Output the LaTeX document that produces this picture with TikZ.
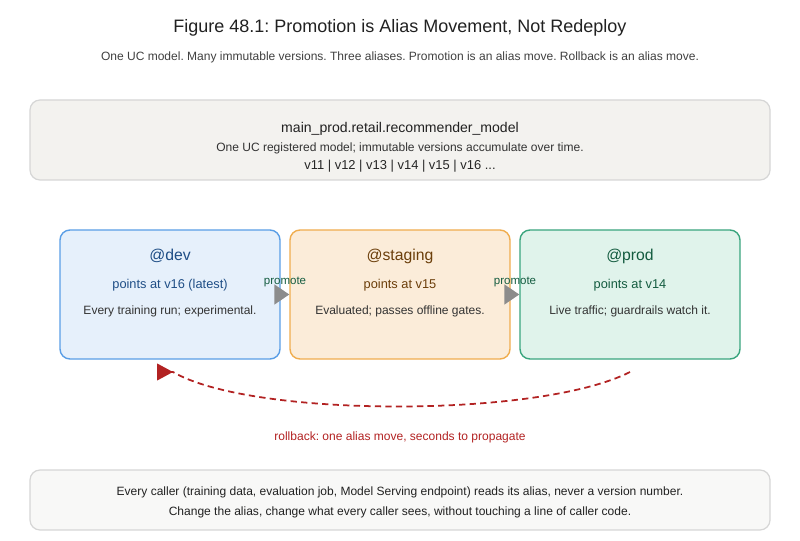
\documentclass[tikz,border=0pt]{standalone}
\usepackage{fontspec}
\setmainfont{Liberation Sans}
\usetikzlibrary{positioning,arrows.meta}
\usepackage{xcolor}
\frenchspacing
\definecolor{panelgray}{HTML}{D6D6D6}
\definecolor{registryfill}{HTML}{F3F2EF}
\definecolor{callerfill}{HTML}{F8F8F7}
\definecolor{devline}{HTML}{5A9EE6}
\definecolor{devfill}{HTML}{E6F0FB}
\definecolor{devtext}{HTML}{1F4E86}
\definecolor{stageline}{HTML}{F0AD4E}
\definecolor{stagefill}{HTML}{FBECD9}
\definecolor{stagetext}{HTML}{6B3E0A}
\definecolor{prodline}{HTML}{3AA57E}
\definecolor{prodfill}{HTML}{E0F3EB}
\definecolor{prodtext}{HTML}{145C40}
\definecolor{notegray}{HTML}{333333}
\definecolor{promotegray}{HTML}{8C8C8C}
\definecolor{rollred}{HTML}{B22222}

\begin{document}
\begin{tikzpicture}[
  panel/.style={rectangle,draw=panelgray,line width=0.9pt,rounded corners=0.25cm,
        minimum width=18.5cm},
  alias/.style={rectangle,line width=1pt,rounded corners=0.25cm,
        minimum width=5.5cm,minimum height=3.225cm},
  aliasname/.style={font=\fontsize{11.2}{13}\selectfont},
  pointer/.style={font=\fontsize{9.1}{11}\selectfont},
  note/.style={font=\fontsize{8.55}{10}\selectfont,text=notegray},
  promote/.style={-{Triangle[length=0.375cm,width=0.5cm]},promotegray,line width=1pt},
  rollback/.style={-{Triangle[reversed,length=0.4cm,width=0.42cm]},rollred,dashed,
        dash pattern=on 4.5pt off 3pt,line width=1.25pt}
]
\useasboundingbox (0,0) rectangle (20,13.5);
% Title
\node[font=\fontsize{12.8}{15}\selectfont,text=black!87] (title) at (10,12.8)
  {Figure 48.1: Promotion is Alias Movement, Not Redeploy};
\node[note,text=black!75] (subtitle) at (10,12.075)
  {One UC model. Many immutable versions. Three aliases. Promotion is an alias move. Rollback is an alias move.};
% Registered model
\node[panel,fill=registryfill,minimum height=2cm] (registry) at (10,10) {};
\node[font=\fontsize{10}{12}\selectfont,text=black!87] (regname) at (10,10.275)
  {main\_prod.retail.recommender\_model};
\node[note] (regnote) at (10,9.8)
  {One UC registered model; immutable versions accumulate over time.};
\node[font=\fontsize{9.2}{11}\selectfont,text=black!85] (versions) at (10,9.35)
  {v11 | v12 | v13 | v14 | v15 | v16 ...};
% Aliases
\node[alias,draw=devline,fill=devfill] (dev) at (4.25,6.1375) {};
\node[aliasname,text=devtext] (devname) at (4.25,7.1) {@dev};
\node[pointer,text=devtext] (devptr) at (4.25,6.375) {points at v16 (latest)};
\node[note] (devnote) at (4.25,5.725) {Every training run; experimental.};
\node[alias,draw=stageline,fill=stagefill] (staging) at (10,6.1375) {};
\node[aliasname,text=stagetext] (stagename) at (10,7.1) {@staging};
\node[pointer,text=stagetext] (stageptr) at (10,6.375) {points at v15};
\node[note] (stagenote) at (10,5.725) {Evaluated; passes offline gates.};
\node[alias,draw=prodline,fill=prodfill] (prod) at (15.75,6.1375) {};
\node[aliasname,text=prodtext] (prodname) at (15.75,7.1) {@prod};
\node[pointer,text=prodtext] (prodptr) at (15.75,6.375) {points at v14};
\node[note] (prodnote) at (15.75,5.725) {Live traffic; guardrails watch it.};
% Promotion
\draw[promote] (dev.east) -- (staging.west);
\draw[promote] (staging.east) -- (prod.west);
\node[text=prodtext,font=\fontsize{8.2}{10}\selectfont] (promote1) at (7.125,6.45) {promote};
\node[text=prodtext,font=\fontsize{8.2}{10}\selectfont] (promote2) at (12.875,6.45) {promote};
% Rollback
\coordinate (rbfrom) at (15.75,4.2);
\coordinate (rbhead) at (4.325,4.2);
\coordinate (rbto) at (3.925,4.2);
\draw[rollback] (rbfrom) .. controls (13.5,3.05) and (6.3,3.05) .. (rbhead) -- (rbto);
\node[text=rollred,font=\fontsize{8.55}{10}\selectfont] (rblabel) at (10,2.575)
  {rollback: one alias move, seconds to propagate};
% Callers
\node[panel,fill=callerfill,minimum height=1.5cm] (callers) at (10,1) {};
\node[note,text=black!87] (callers1) at (10,1.2)
  {Every caller (training data, evaluation job, Model Serving endpoint) reads its alias, never a version number.};
\node[note,text=black!87] (callers2) at (10,0.7)
  {Change the alias, change what every caller sees, without touching a line of caller code.};
\end{tikzpicture}
\end{document}
